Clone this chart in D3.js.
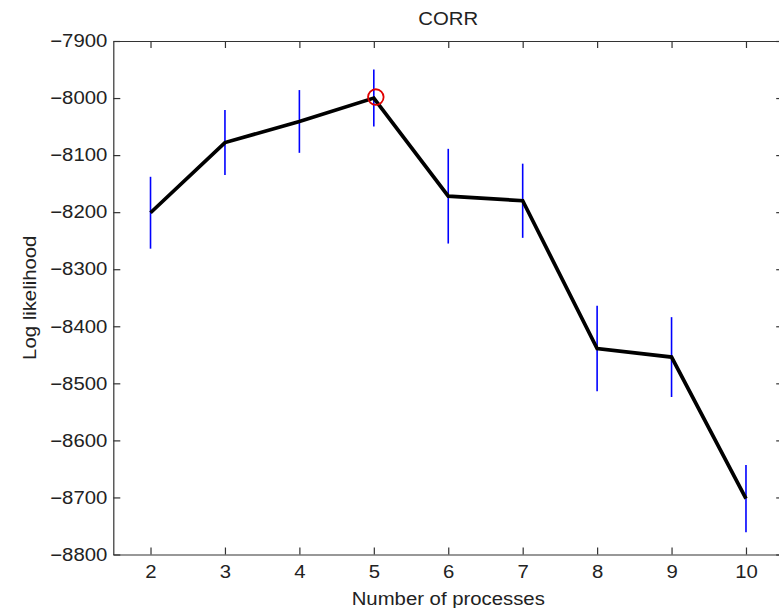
<!DOCTYPE html>
<html>
<head>
<meta charset="utf-8">
<script src="https://cdnjs.cloudflare.com/ajax/libs/d3/7.8.5/d3.min.js"></script>
<style>
  body { margin: 0; background: #fff; }
  text { font-family: "Liberation Sans", Arial, sans-serif; fill: #222; }
</style>
</head>
<body>
<div id="chart"></div>
<script>
// values
var processes = [2, 3, 4, 5, 6, 7, 8, 9, 10];
var logLik = [-8201, -8078, -8041, -8000, -8172, -8180, -8439, -8454, -8702];
var errHalf = [63, 57, 55, 50, 83, 65, 75, 70, 59];
var yTicks = [-7900, -8000, -8100, -8200, -8300, -8400, -8500, -8600, -8700, -8800];

var width = 779,
    height = 608,
    stretch = 1.13; // the original font runs a bit wide

var x = d3.scaleLinear().domain([1.5, 10.5]).range([113.3, 783.2]);
var y = d3.scaleLinear().domain([-8800, -7900]).range([554.5, 41]);

var svg = d3.select("#chart").append("svg")
  .attr("width", width)
  .attr("height", height);

var fmt = function(d){ return d3.format("d")(d).replace("-", "\u2212"); };

function widen(sel) {
  sel.selectAll(".tick text").each(function(){
    var t = d3.select(this),
        tx = +t.attr("x") || 0;
    t.attr("x", 0)
     .attr("transform", "translate(" + tx + ",0) scale(" + stretch + ",1)");
  });
}

function styleAxis(g) {
  g.select(".domain").attr("stroke", "#333").attr("stroke-width", 1.2);
  g.selectAll(".tick line").attr("stroke", "#333").attr("stroke-width", 1.2);
  g.selectAll(".tick text").style("font-size", "18px").attr("fill", "#222");
}

// bottom axis
var xb = svg.append("g")
  .attr("transform", "translate(0," + y(-8800) + ")")
  .call(d3.axisBottom(x).tickValues(processes).tickSizeInner(-7).tickSizeOuter(0).tickPadding(11))
  .call(styleAxis);
widen(xb);

// top axis
svg.append("g")
  .attr("transform", "translate(0," + y(-7900) + ")")
  .call(d3.axisTop(x).tickValues(processes).tickSizeInner(-7).tickSizeOuter(0).tickFormat(""))
  .call(styleAxis);

// left axis
var yl = svg.append("g")
  .attr("transform", "translate(" + x(1.5) + ",0)")
  .call(d3.axisLeft(y).tickValues(yTicks).tickFormat(fmt).tickSizeInner(-7).tickSizeOuter(0).tickPadding(6))
  .call(styleAxis);
widen(yl);

// right axis
svg.append("g")
  .attr("transform", "translate(" + x(10.5) + ",0)")
  .call(d3.axisRight(y).tickValues(yTicks).tickSizeInner(-7).tickSizeOuter(0).tickFormat(""))
  .call(styleAxis);

// error bars
svg.selectAll(".err")
  .data(processes)
  .enter()
  .append("line")
  .attr("class", "err")
  .attr("x1", function(d){ return x(d); })
  .attr("x2", function(d){ return x(d); })
  .attr("y1", function(d,i){ return y(logLik[i] + errHalf[i]); })
  .attr("y2", function(d,i){ return y(logLik[i] - errHalf[i]); })
  .attr("stroke", "#0000ff")
  .attr("stroke-width", 1.6);

// mean line
var line = d3.line()
  .x(function(d){ return x(d); })
  .y(function(d,i){ return y(logLik[i]); });

svg.append("path")
  .datum(processes)
  .attr("d", line)
  .attr("fill", "none")
  .attr("stroke", "#000")
  .attr("stroke-width", 3.7)
  .attr("stroke-linejoin", "miter");

// best model marker
var best = d3.maxIndex(logLik);
svg.append("circle")
  .attr("cx", x(processes[best]) + 2)
  .attr("cy", y(logLik[best]) - 1)
  .attr("r", 7.8)
  .attr("fill", "none")
  .attr("stroke", "#e00000")
  .attr("stroke-width", 1.8);

// title and labels
svg.append("text")
  .attr("transform", "translate(" + ((x(1.5) + x(10.5)) / 2) + ",25) scale(" + stretch + ",1)")
  .attr("text-anchor", "middle")
  .style("font-size", "18px")
  .text("CORR");

svg.append("text")
  .attr("transform", "translate(" + ((x(1.5) + x(10.5)) / 2) + ",605) scale(" + stretch + ",1)")
  .attr("text-anchor", "middle")
  .style("font-size", "18px")
  .text("Number of processes");

svg.append("text")
  .attr("transform", "translate(36," + ((y(-8800) + y(-7900)) / 2) + ") rotate(-90) scale(" + stretch + ",1)")
  .attr("text-anchor", "middle")
  .style("font-size", "18px")
  .text("Log likelihood");
</script>
</body>
</html>
